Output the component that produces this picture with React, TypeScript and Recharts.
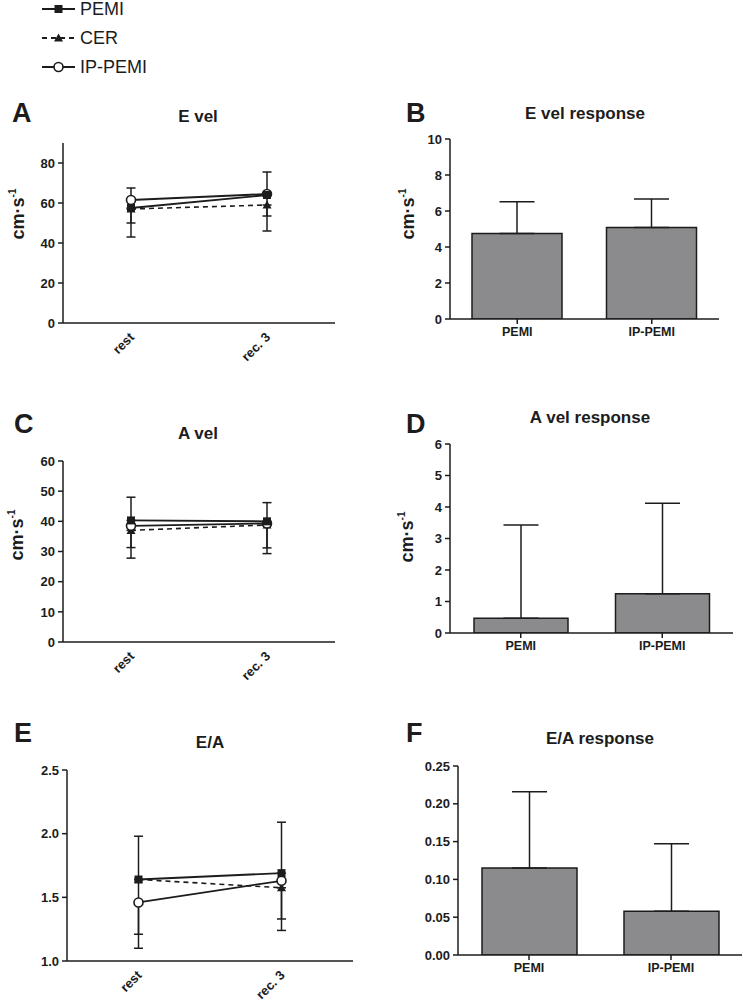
import React from 'react';
import { ComposedChart, Line, Bar, XAxis, YAxis, ErrorBar } from 'recharts';

// ---------- data ----------
const timepoints = ['rest', 'rec. 3'];
const groups = ['PEMI', 'IP-PEMI'];

// Panel A: E vel (cm·s-1)
const eVelPEMI = [57.5, 64];
const eVelCER = [57, 59];
const eVelIP = [61.5, 64.5];
const eVelPEMIErr = [[14.5, 0], [0, 11.5]];
const eVelCERErr = [[7, 0], [13, 0]];
const eVelIPErr = [[0, 6], [11, 0]];

// Panel C: A vel (cm·s-1)
const aVelPEMI = [40.3, 40];
const aVelCER = [37, 38.8];
const aVelIP = [38.5, 39.3];
const aVelPEMIErr = [[0, 7.7], [0, 6.2]];
const aVelCERErr = [[9.2, 0], [9.5, 0]];
const aVelIPErr = [[7.2, 0], [8.1, 0]];

// Panel E: E/A
const eaPEMI = [1.64, 1.69];
const eaCER = [1.64, 1.575];
const eaIP = [1.46, 1.63];
const eaPEMIErr = [[0, 0.34], [0, 0.4]];
const eaCERErr = [[0.54, 0], [0.335, 0]];
const eaIPErr = [[0.25, 0], [0.3, 0]];

// Panel B: E vel response
const eVelResp = [4.75, 5.08];
const eVelRespErr = [1.77, 1.59];
// Panel D: A vel response
const aVelResp = [0.47, 1.25];
const aVelRespErr = [2.96, 2.87];
// Panel F: E/A response
const eaResp = [0.115, 0.058];
const eaRespErr = [0.101, 0.089];

const legendSeries = [
  { name: 'PEMI', dash: undefined as string | undefined, marker: 'square' },
  { name: 'CER', dash: '5 4', marker: 'triangle' },
  { name: 'IP-PEMI', dash: undefined as string | undefined, marker: 'circle' },
];

// ---------- styling ----------
const FONT = '"Liberation Sans", Arial, Helvetica, sans-serif';
const INK = '#1c1c1c';
const BAR_FILL = '#8b8b8e';

const buildLineData = (p: number[], c: number[], i: number[], pe: number[][], ce: number[][], ie: number[][]) =>
  timepoints.map((t, k) => ({ t, pemi: p[k], cer: c[k], ip: i[k], pemiErr: pe[k], cerErr: ce[k], ipErr: ie[k] }));

const buildBarData = (v: number[], e: number[]) =>
  groups.map((g, k) => ({ g, v: v[k], err: [0, e[k]] }));

const Marker = ({ type, cx, cy }: { type: string; cx: number; cy: number }) => {
  if (cx == null || cy == null) return null;
  if (type === 'square') return <rect x={cx - 4} y={cy - 4} width={8} height={8} fill={INK} />;
  if (type === 'triangle')
    return <polygon points={`${cx},${cy - 4.5} ${cx + 4.5},${cy + 3.5} ${cx - 4.5},${cy + 3.5}`} fill={INK} />;
  return <circle cx={cx} cy={cy} r={4.5} fill="#fff" stroke={INK} strokeWidth={1.6} />;
};

const mkDot = (type: string) => (props: any) => (
  <Marker key={`${type}-${props.index}`} type={type} cx={props.cx} cy={props.cy} />
);

const RotTick = (props: any) => {
  const { x, y, payload } = props;
  const ax = x + 4;
  const ay = y + 7;
  return (
    <text x={ax} y={ay} transform={`rotate(-45 ${ax} ${ay})`} textAnchor="end" fontFamily={FONT}
      fontWeight="bold" fontSize={13} fill={INK}>
      {payload.value}
    </text>
  );
};

const mkYTick = (fmt?: (v: number) => string) => (props: any) => {
  const { x, y, payload } = props;
  return (
    <text x={x} y={y} dy="0.36em" textAnchor="end" fontFamily={FONT} fontWeight="bold" fontSize={13} fill={INK}>
      {fmt ? fmt(payload.value) : String(payload.value)}
    </text>
  );
};

const XBarTick = (props: any) => {
  const { x, y, payload } = props;
  return (
    <text x={x} y={y} dy="0.8em" textAnchor="middle" fontFamily={FONT} fontWeight="bold" fontSize={12.5} fill={INK}>
      {payload.value}
    </text>
  );
};

type Box = { x0: number; x1: number; y0: number; y1: number };
const YW = 50;
const TOPM = 10;
const XH = 45;

const chartStyle = (b: Box): React.CSSProperties => ({
  position: 'absolute',
  left: b.x0 - YW,
  top: b.y0 - TOPM,
});

const axisLine = { stroke: INK, strokeWidth: 1.5 };
const tickLineStyle = { stroke: INK, strokeWidth: 1.5 };

const LinePanel = ({ box, data, domain, ticks, fmt }: { box: Box; data: any[]; domain: [number, number]; ticks: number[]; fmt?: (v: number) => string }) => (
  <div style={chartStyle(box)}>
    <ComposedChart
      width={box.x1 - box.x0 + YW + 1}
      height={box.y1 - box.y0 + TOPM + XH}
      data={data}
      margin={{ top: TOPM, right: 1, bottom: 0, left: 0 }}
    >
      <XAxis dataKey="t" scale="band" height={XH} axisLine={axisLine} tickLine={false} tick={<RotTick />} interval={0} />
      <YAxis width={YW} domain={domain} ticks={ticks} allowDataOverflow axisLine={axisLine}
        tickLine={tickLineStyle} tickSize={5} tickMargin={3} tick={mkYTick(fmt)} />
      <Line dataKey="cer" stroke={INK} strokeWidth={1.6} strokeDasharray="5 4" dot={mkDot('triangle')} isAnimationActive={false}>
        <ErrorBar dataKey="cerErr" width={4.5} stroke={INK} strokeWidth={1.5} direction="y" />
      </Line>
      <Line dataKey="ip" stroke={INK} strokeWidth={1.8} dot={mkDot('circle')} isAnimationActive={false}>
        <ErrorBar dataKey="ipErr" width={4.5} stroke={INK} strokeWidth={1.5} direction="y" />
      </Line>
      <Line dataKey="pemi" stroke={INK} strokeWidth={1.8} dot={mkDot('square')} isAnimationActive={false}>
        <ErrorBar dataKey="pemiErr" width={4.5} stroke={INK} strokeWidth={1.5} direction="y" />
      </Line>
    </ComposedChart>
  </div>
);

const BarPanel = ({ box, data, domain, ticks, barSize, fmt }: { box: Box; data: any[]; domain: [number, number]; ticks: number[]; barSize: number; fmt?: (v: number) => string }) => (
  <div style={chartStyle(box)}>
    <ComposedChart
      width={box.x1 - box.x0 + YW + 1}
      height={box.y1 - box.y0 + TOPM + XH}
      data={data}
      margin={{ top: TOPM, right: 1, bottom: 0, left: 0 }}
    >
      <XAxis dataKey="g" height={XH} axisLine={axisLine} tickLine={tickLineStyle} tickSize={5}
        tick={<XBarTick />} interval={0} />
      <YAxis width={YW} domain={domain} ticks={ticks} allowDataOverflow axisLine={axisLine}
        tickLine={tickLineStyle} tickSize={5} tickMargin={3} tick={mkYTick(fmt)} />
      <Bar dataKey="v" fill={BAR_FILL} stroke={INK} strokeWidth={1.5} barSize={barSize} isAnimationActive={false}>
        <ErrorBar dataKey="err" width={17.5} stroke={INK} strokeWidth={1.5} direction="y" />
      </Bar>
    </ComposedChart>
  </div>
);

const Letter = ({ text, x, cy }: { text: string; x: number; cy: number }) => (
  <div style={{ position: 'absolute', left: x - 1, top: cy - 13.5, fontFamily: FONT, fontWeight: 'bold', fontSize: 27, lineHeight: '27px', color: INK }}>
    {text}
  </div>
);

const Title = ({ text, cx, cy }: { text: string; cx: number; cy: number }) => (
  <div style={{ position: 'absolute', left: cx - 120, width: 240, top: cy - 8.5, textAlign: 'center', fontFamily: FONT, fontWeight: 'bold', fontSize: 17, lineHeight: '17px', color: INK }}>
    {text}
  </div>
);

const YLabel = ({ cx, cy }: { cx: number; cy: number }) => (
  <div style={{ position: 'absolute', left: cx - 50, width: 100, top: cy - 10, height: 20, lineHeight: '20px', textAlign: 'center', transform: 'rotate(-90deg)', fontFamily: FONT, fontWeight: 'bold', fontSize: 18, color: INK, whiteSpace: 'nowrap' }}>
    cm·s<sup style={{ fontSize: 10, verticalAlign: 'top', lineHeight: '12px', position: 'relative', top: -1 }}>-1</sup>
  </div>
);

const Legend = () => (
  <svg style={{ position: 'absolute', left: 0, top: 0 }} width={200} height={85}>
    {legendSeries.map((s, i) => {
      const cy = 9 + i * 29;
      return (
        <g key={s.name}>
          <line x1={42} x2={75} y1={cy} y2={cy} stroke={INK} strokeWidth={1.8} strokeDasharray={s.dash} />
          <Marker type={s.marker} cx={58.5} cy={cy} />
          <text x={80} y={cy} dy="0.36em" fontFamily={FONT} fontSize={18} fill={INK}>{s.name}</text>
        </g>
      );
    })}
  </svg>
);

const fmt1 = (v: number) => v.toFixed(1);
const fmt2 = (v: number) => v.toFixed(2);

export default function App() {
  const dataA = buildLineData(eVelPEMI, eVelCER, eVelIP, eVelPEMIErr, eVelCERErr, eVelIPErr);
  const dataC = buildLineData(aVelPEMI, aVelCER, aVelIP, aVelPEMIErr, aVelCERErr, aVelIPErr);
  const dataE = buildLineData(eaPEMI, eaCER, eaIP, eaPEMIErr, eaCERErr, eaIPErr);
  const dataB = buildBarData(eVelResp, eVelRespErr);
  const dataD = buildBarData(aVelResp, aVelRespErr);
  const dataF = buildBarData(eaResp, eaRespErr);

  return (
    <div style={{ position: 'absolute', left: 0, top: 0, width: 743, height: 1004, background: '#fff', overflow: 'hidden' }}>
      <Legend />

      <Letter text="A" x={13} cy={113} />
      <Title text="E vel" cx={198} cy={116} />
      <YLabel cx={18} cy={214} />
      <LinePanel box={{ x0: 63, x1: 335, y0: 143, y1: 323 }} data={dataA} domain={[0, 90]} ticks={[0, 20, 40, 60, 80]} />

      <Letter text="B" x={407} cy={113.5} />
      <Title text="E vel response" cx={585} cy={113} />
      <YLabel cx={408} cy={214} />
      <BarPanel box={{ x0: 450, x1: 719, y0: 139, y1: 319 }} data={dataB} domain={[0, 10]} ticks={[0, 2, 4, 6, 8, 10]} barSize={90} />

      <Letter text="C" x={15} cy={424} />
      <Title text="A vel" cx={198} cy={433} />
      <YLabel cx={17} cy={535} />
      <LinePanel box={{ x0: 63, x1: 335, y0: 461, y1: 642 }} data={dataC} domain={[0, 60]} ticks={[0, 10, 20, 30, 40, 50, 60]} />

      <Letter text="D" x={407} cy={424} />
      <Title text="A vel response" cx={590} cy={417} />
      <YLabel cx={407} cy={537} />
      <BarPanel box={{ x0: 450, x1: 733, y0: 444, y1: 633 }} data={dataD} domain={[0, 6]} ticks={[0, 1, 2, 3, 4, 5, 6]} barSize={94} />

      <Letter text="E" x={15} cy={733} />
      <Title text="E/A" cx={210} cy={742} />
      <LinePanel box={{ x0: 67, x1: 353, y0: 770, y1: 961 }} data={dataE} domain={[1, 2.5]} ticks={[1, 1.5, 2, 2.5]} fmt={fmt1} />

      <Letter text="F" x={407} cy={733} />
      <Title text="E/A response" cx={600} cy={738} />
      <BarPanel box={{ x0: 458, x1: 742, y0: 766, y1: 955 }} data={dataF} domain={[0, 0.25]} ticks={[0, 0.05, 0.1, 0.15, 0.2, 0.25]} barSize={95} fmt={fmt2} />
    </div>
  );
}
